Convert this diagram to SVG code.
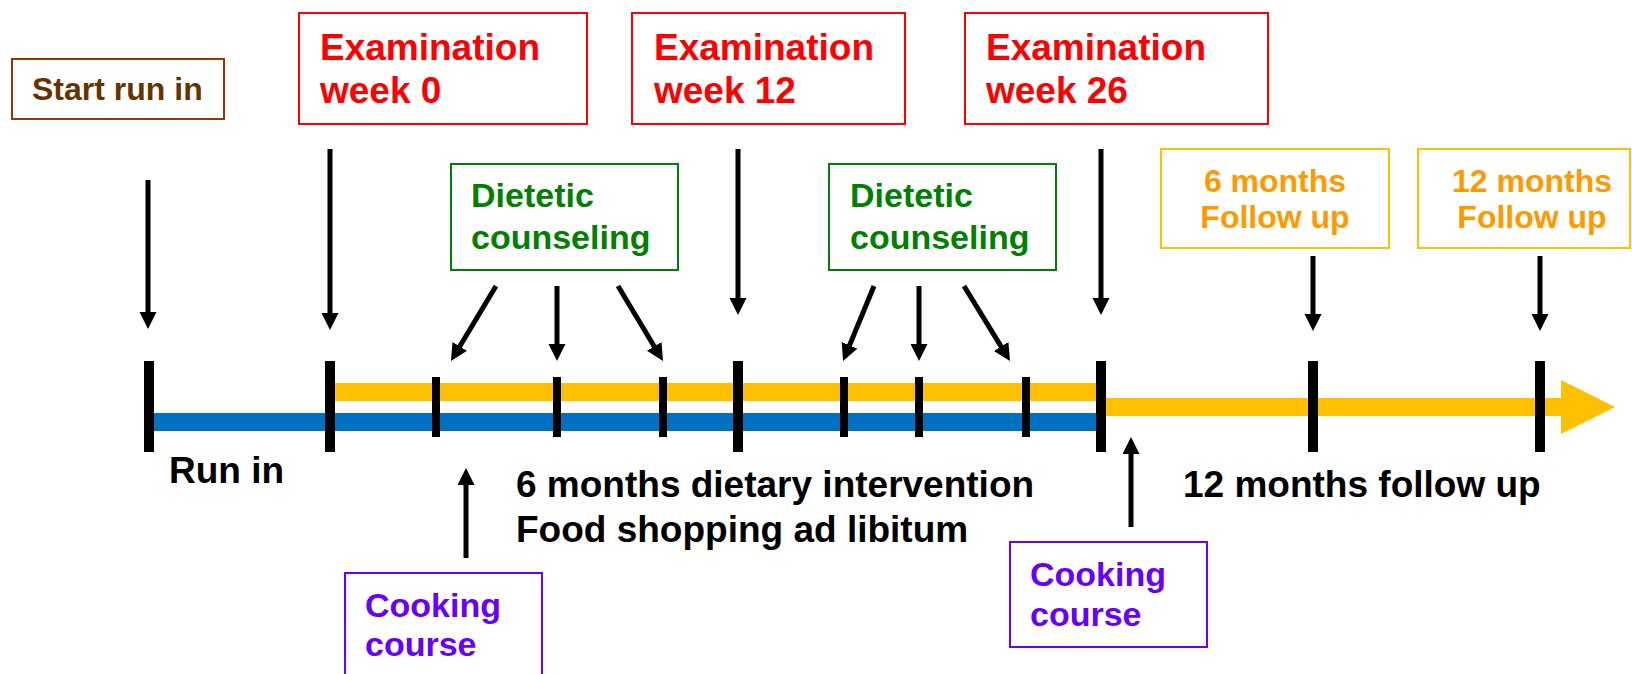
<svg xmlns="http://www.w3.org/2000/svg" width="1632" height="674" viewBox="0 0 1632 674">
<style>
text{font-family:"Liberation Sans",Arial,sans-serif;font-weight:bold}
.box{fill:#fff;stroke-width:2}
.exam{stroke:#FF0000}.exam-t{fill:#FF0000;font-size:37px}
.diet{stroke:#008000}.diet-t{fill:#008000;font-size:34px}
.cook{stroke:#6600FF}.cook-t{fill:#6600FF;font-size:34px}
.fu{stroke:#FFC000}.fu-t{fill:#FF9900;font-size:32px}
.start{stroke:#993300}.start-t{fill:#663300;font-size:32px}
.lbl{fill:#000;font-size:37px}
.arr{stroke:#000;stroke-width:5;fill:none;marker-end:url(#ah)}
.big{fill:#000}
</style>
<defs>
<marker id="ah" markerUnits="userSpaceOnUse" markerWidth="18" markerHeight="18" refX="3" refY="8.5" orient="auto">
<path d="M0,0 L17,8.5 L0,17 z" fill="#000"/>
</marker>
</defs>

<g id="timeline">
<rect x="149" y="413" width="952" height="18" fill="#0070C0"/>
<rect x="330" y="383" width="771" height="18" fill="#FFC000"/>
<rect x="1101" y="398" width="462" height="18" fill="#FFC000"/>
<polygon points="1561,380 1615,407 1561,434" fill="#FFC000"/>
<g class="big">
<rect x="144" y="361" width="10" height="91"/>
<rect x="325" y="361" width="10" height="91"/>
<rect x="733" y="361" width="10" height="91"/>
<rect x="1096" y="361" width="10" height="91"/>
<rect x="1308" y="361" width="10" height="91"/>
<rect x="1535" y="361" width="10" height="91"/>
<rect x="432" y="377" width="8" height="60"/>
<rect x="553" y="377" width="8" height="60"/>
<rect x="659" y="377" width="8" height="60"/>
<rect x="840" y="377" width="8" height="60"/>
<rect x="915" y="377" width="8" height="60"/>
<rect x="1022" y="377" width="8" height="60"/>
</g>
</g>

<g id="connectors">
<line class="arr" x1="148" y1="180" x2="148" y2="315"/>
<line class="arr" x1="330" y1="149" x2="330" y2="316"/>
<line class="arr" x1="738" y1="149" x2="738" y2="301"/>
<line class="arr" x1="1101" y1="149" x2="1101" y2="301"/>
<line class="arr" x1="1313" y1="256" x2="1313" y2="317"/>
<line class="arr" x1="1540" y1="256" x2="1540" y2="317"/>
<line class="arr" x1="496" y1="286" x2="458.2" y2="349"/>
<line class="arr" x1="557" y1="286" x2="557" y2="347"/>
<line class="arr" x1="618" y1="286" x2="655.8" y2="349"/>
<line class="arr" x1="874" y1="286" x2="848.4" y2="348.1"/>
<line class="arr" x1="919" y1="286" x2="919" y2="347"/>
<line class="arr" x1="964" y1="286" x2="1002.7" y2="349.1"/>
<line class="arr" x1="466" y1="558" x2="466" y2="482"/>
<line class="arr" x1="1131" y1="527" x2="1131" y2="451"/>
</g>

<g id="start-run-in">
<rect class="box start" x="12" y="59" width="212" height="60"/>
<text class="start-t" x="32" y="100">Start run in</text>
</g>

<g id="exam-week-0">
<rect class="box exam" x="299" y="13" width="288" height="111"/>
<text class="exam-t" x="320" y="60">Examination</text>
<text class="exam-t" x="320" y="103">week 0</text>
</g>

<g id="exam-week-12">
<rect class="box exam" x="632" y="13" width="273" height="111"/>
<text class="exam-t" x="654" y="60">Examination</text>
<text class="exam-t" x="654" y="103">week 12</text>
</g>

<g id="exam-week-26">
<rect class="box exam" x="965" y="13" width="303" height="111"/>
<text class="exam-t" x="986" y="60">Examination</text>
<text class="exam-t" x="986" y="103">week 26</text>
</g>

<g id="dietetic-1">
<rect class="box diet" x="451" y="164" width="227" height="106"/>
<text class="diet-t" x="471" y="207">Dietetic</text>
<text class="diet-t" x="471" y="249">counseling</text>
</g>

<g id="dietetic-2">
<rect class="box diet" x="829" y="164" width="227" height="106"/>
<text class="diet-t" x="850" y="207">Dietetic</text>
<text class="diet-t" x="850" y="249">counseling</text>
</g>

<g id="followup-6">
<rect class="box fu" x="1161" y="149" width="228" height="99"/>
<text class="fu-t" x="1275" y="192" text-anchor="middle">6 months</text>
<text class="fu-t" x="1275" y="228" text-anchor="middle">Follow up</text>
</g>

<g id="followup-12">
<rect class="box fu" x="1418" y="149" width="212" height="99"/>
<text class="fu-t" x="1532" y="192" text-anchor="middle">12 months</text>
<text class="fu-t" x="1532" y="228" text-anchor="middle">Follow up</text>
</g>

<g id="cooking-1">
<rect class="box cook" x="345" y="573" width="197" height="110"/>
<text class="cook-t" x="365" y="617">Cooking</text>
<text class="cook-t" x="365" y="656">course</text>
</g>

<g id="cooking-2">
<rect class="box cook" x="1010" y="542" width="197" height="105"/>
<text class="cook-t" x="1030" y="586">Cooking</text>
<text class="cook-t" x="1030" y="626">course</text>
</g>

<g id="labels">
<text class="lbl" x="169" y="483">Run in</text>
<text class="lbl" x="516" y="497">6 months dietary intervention</text>
<text class="lbl" x="516" y="542">Food shopping ad libitum</text>
<text class="lbl" x="1183" y="497">12 months follow up</text>
</g>
</svg>
